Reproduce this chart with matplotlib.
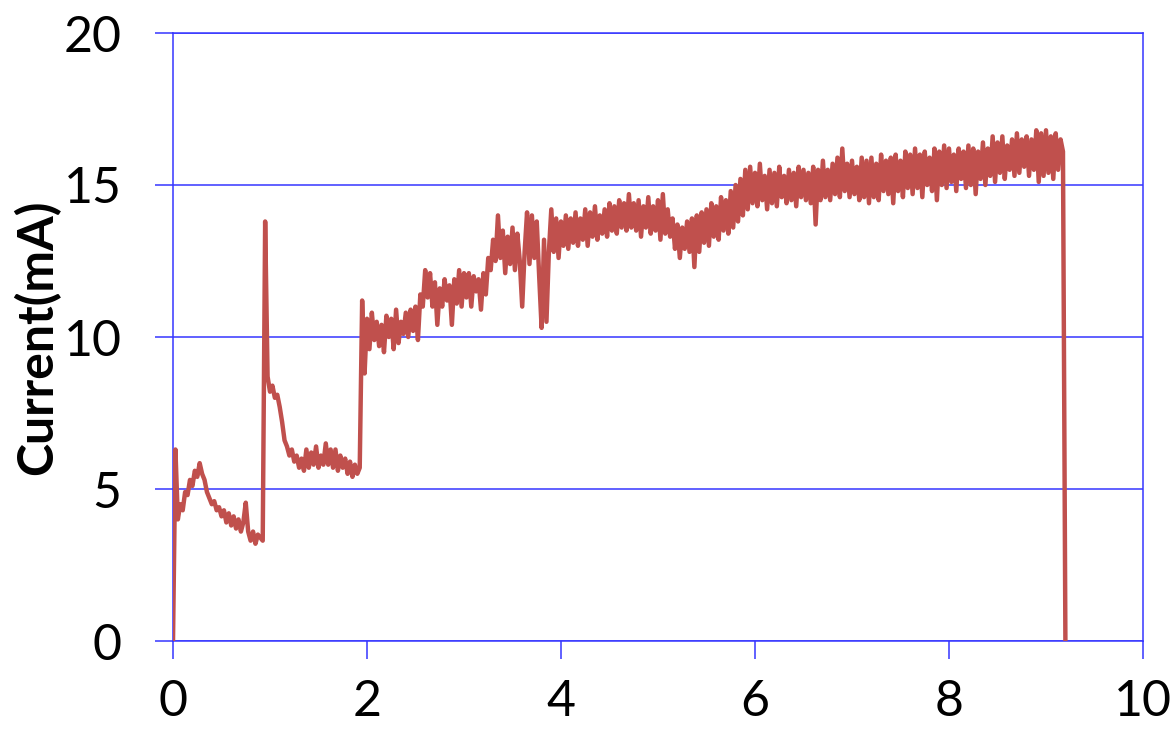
import numpy as np
import matplotlib
matplotlib.use("Agg")
import matplotlib.pyplot as plt

plt.rcParams['font.family'] = ['Lato', 'DejaVu Sans']

# sampled current trace (mA), one sample every 0.025 time units starting at 0
current = [
    0.0, 6.3, 4.0, 4.5, 4.3, 4.9, 4.8, 5.3, 5.1, 5.6,
    5.4, 5.85, 5.5, 5.3, 4.9, 4.7, 4.5, 4.6, 4.3, 4.4,
    4.1, 4.3, 3.9, 4.2, 3.8, 4.1, 3.7, 4.0, 3.6, 3.9,
    4.55, 3.6, 3.3, 3.6, 3.2, 3.5, 3.4, 3.3, 13.8, 8.7,
    8.2, 8.4, 8.0, 8.1, 7.7, 7.2, 6.6, 6.4, 6.1, 6.3,
    5.9, 6.1, 5.7, 6.0, 5.6, 6.3, 5.7, 6.2, 5.8, 6.4,
    5.7, 6.1, 5.8, 6.5, 5.8, 6.3, 5.7, 6.3, 5.6, 6.1,
    5.7, 6.0, 5.5, 5.9, 5.4, 5.8, 5.5, 5.7, 11.2, 8.8,
    10.6, 9.6, 10.8, 9.9, 10.5, 9.7, 10.4, 9.5, 10.7, 10.0,
    10.6, 9.6, 10.9, 9.8, 10.5, 10.1, 10.8, 10.0, 10.9, 10.2,
    11.0, 9.9, 11.4, 11.0, 12.2, 11.3, 12.1, 11.0, 11.8, 10.4,
    11.6, 11.0, 11.9, 11.2, 11.7, 10.4, 11.9, 11.1, 12.2, 11.0,
    12.1, 11.3, 12.1, 11.0, 12.0, 11.5, 11.9, 10.9, 12.1, 11.4,
    12.6, 12.2, 13.2, 12.5, 14.0, 12.6, 13.5, 12.1, 13.3, 12.4,
    13.6, 12.2, 13.4, 12.5, 11.0, 12.8, 14.1, 12.4, 14.0, 12.6,
    13.8, 12.0, 10.3, 13.2, 10.5, 12.8, 14.2, 12.8, 13.9, 12.6,
    13.8, 13.0, 14.0, 12.9, 13.9, 13.1, 14.1, 13.0, 13.9, 13.2,
    14.2, 13.0, 14.1, 13.3, 14.3, 13.2, 14.0, 13.4, 14.2, 13.3,
    14.4, 13.5, 14.3, 13.4, 14.5, 13.6, 14.4, 13.5, 14.7, 13.6,
    14.4, 13.5, 14.5, 13.3, 14.3, 13.6, 14.6, 13.4, 14.3, 13.5,
    14.5, 13.2, 14.7, 13.4, 14.2, 13.3, 13.9, 12.9, 13.7, 12.6,
    13.6, 12.9, 13.8, 12.8, 13.9, 12.3, 14.0, 12.8, 14.1, 13.1,
    14.2, 13.0, 14.4, 13.3, 14.3, 13.2, 14.6, 13.5, 14.5, 13.4,
    14.8, 13.6, 15.0, 13.8, 15.2, 14.0, 15.5, 14.2, 15.6, 14.4,
    15.4, 14.3, 15.7, 14.5, 15.3, 14.2, 15.5, 14.4, 15.4, 14.3,
    15.6, 14.6, 15.3, 14.4, 15.5, 14.5, 15.4, 14.3, 15.6, 14.6,
    15.5, 14.5, 15.4, 14.4, 15.6, 13.7, 15.5, 14.5, 15.8, 14.6,
    15.5, 14.5, 15.7, 14.7, 15.9, 14.6, 16.2, 14.8, 15.7, 14.6,
    15.8, 14.7, 15.6, 14.5, 15.9, 14.6, 15.8, 14.4, 15.9, 14.6,
    15.7, 14.5, 16.0, 14.8, 15.8, 14.7, 15.9, 14.4, 16.0, 14.8,
    15.8, 14.6, 16.1, 14.9, 16.0, 14.7, 16.2, 14.9, 16.0, 14.6,
    16.1, 15.0, 15.9, 14.8, 16.2, 14.5, 16.1, 15.0, 16.3, 14.9,
    16.2, 15.1, 16.0, 14.8, 16.2, 15.2, 16.1, 14.9, 16.3, 15.0,
    16.2, 14.7, 16.1, 15.2, 16.4, 15.0, 16.2, 15.3, 16.6, 15.1,
    16.4, 15.4, 16.6, 15.2, 16.3, 15.5, 16.5, 15.3, 16.7, 15.4,
    16.5, 15.6, 16.6, 15.3, 16.5, 15.5, 16.8, 15.1, 16.7, 15.3,
    16.8, 15.4, 16.6, 15.2, 16.7, 15.5, 16.5, 16.1, 0.0,
]
sample_step = 0.025
time = np.arange(len(current)) * sample_step

x_ticks = [0, 2, 4, 6, 8, 10]
y_ticks = [0, 5, 10, 15, 20]
y_label = "Current(mA)"

W, H = 1174, 733
fig = plt.figure(figsize=(W / 100, H / 100), dpi=100)
ax = fig.add_axes([173 / W, 1 - 641 / H, (1143 - 173) / W, (641 - 33) / H])

blue = '#3535ff'
ax.plot(time, current, color='#C0504D', lw=3.2, zorder=3)

ax.set_xlim(0, 10)
ax.set_ylim(0, 20)
ax.set_xticks(x_ticks)
ax.set_yticks(y_ticks)
ax.grid(axis='y', color=blue, lw=1.1, zorder=1)
ax.grid(axis='x', visible=False)
for s in ax.spines.values():
    s.set_color(blue)
    s.set_linewidth(1.1)

ax.tick_params(axis='both', direction='out', length=13, width=1.1, color=blue,
               labelsize=36, labelcolor='black')
ax.tick_params(axis='y', pad=24)
ax.tick_params(axis='x', pad=14)

ax.set_ylabel(y_label, fontsize=36, fontweight='bold', ha='center', va='center')
ax.yaxis.set_label_coords((37 - 173) / 970, 0.5)

fig.savefig('out.png', dpi=100)
